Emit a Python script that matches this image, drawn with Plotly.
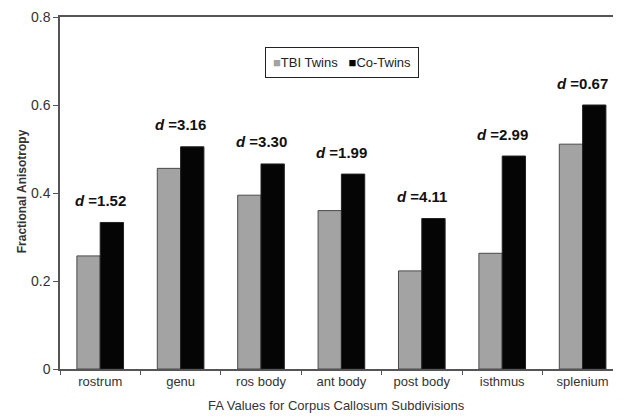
import plotly.graph_objects as go

categories = ["rostrum", "genu", "ros body", "ant body", "post body", "isthmus", "splenium"]
tbi_twins = [0.257, 0.456, 0.395, 0.360, 0.223, 0.263, 0.511]
co_twins = [0.333, 0.505, 0.466, 0.443, 0.342, 0.484, 0.600]
d_values = ["1.52", "3.16", "3.30", "1.99", "4.11", "2.99", "0.67"]
series_names = ["TBI Twins", "Co-Twins"]
x_title = "FA Values for Corpus Callosum Subdivisions"
y_title = "Fractional Anisotropy"

font_family = "Liberation Sans, Arial, sans-serif"
gray = "#a3a3a3"
black = "#050505"

fig = go.Figure()
fig.add_trace(go.Bar(
    x=categories, y=tbi_twins, name=series_names[0],
    marker=dict(color=gray, line=dict(color="#4a4a4a", width=1)),
))
fig.add_trace(go.Bar(
    x=categories, y=co_twins, name=series_names[1],
    marker=dict(color=black, line=dict(color="#222222", width=1)),
))

for cat, a, b, d in zip(categories, tbi_twins, co_twins, d_values):
    fig.add_annotation(
        x=cat, y=max(a, b), text=f"<b><i>d</i> =" + d + "</b>",
        showarrow=False, yanchor="middle", yshift=22,
        font=dict(family=font_family, size=15, color="#111111"),
    )

# compact boxed legend, like the original
legend_text = (
    f"<span style='color:{gray}'>■</span>{series_names[0]}"
    f"&nbsp;&nbsp;&nbsp;<span style='color:{black}'>■</span>{series_names[1]}"
)
fig.add_annotation(
    xref="paper", yref="paper", x=0.51, y=0.871,
    xanchor="center", yanchor="middle", showarrow=False,
    text=legend_text, bordercolor="#222222", borderwidth=1, borderpad=7,
    bgcolor="white", font=dict(family=font_family, size=13, color="#222222"),
)

# axis titles
fig.add_annotation(
    xref="paper", yref="paper", x=0.5, y=-0.105,
    xanchor="center", yanchor="middle", showarrow=False,
    text=x_title, font=dict(family=font_family, size=13, color="#333333"),
)
fig.add_annotation(
    xref="paper", yref="paper", x=-0.0687, y=0.505,
    xanchor="center", yanchor="middle", showarrow=False, textangle=-90,
    text=f"<b>{y_title}</b>", font=dict(family=font_family, size=12, color="#333333"),
)

# page body has a default 8px margin
fig.update_layout(
    width=605, height=412,
    margin=dict(l=52, r=0, t=9, b=51),
    paper_bgcolor="white", plot_bgcolor="white",
    barmode="group", bargap=0.42, bargroupgap=0,
    font=dict(family=font_family, size=12, color="#333333"),
    showlegend=False,
)

fig.update_xaxes(
    range=[-0.5, 6.378], automargin=False,
    showline=True, linecolor="#555555", linewidth=1.5, mirror=True,
    ticks="outside", tickson="boundaries", ticklen=4, tickcolor="#555555",
    showgrid=False, zeroline=False,
    tickfont=dict(size=13, color="#333333"),
)
fig.update_yaxes(
    range=[0, 0.8], dtick=0.2, tick0=0, automargin=False,
    showline=True, linecolor="#555555", linewidth=1.5,
    ticks="outside", ticklen=5, tickcolor="#555555",
    showgrid=False, zeroline=False,
    tickfont=dict(size=14, color="#333333"),
)

fig.write_html("out.html")
